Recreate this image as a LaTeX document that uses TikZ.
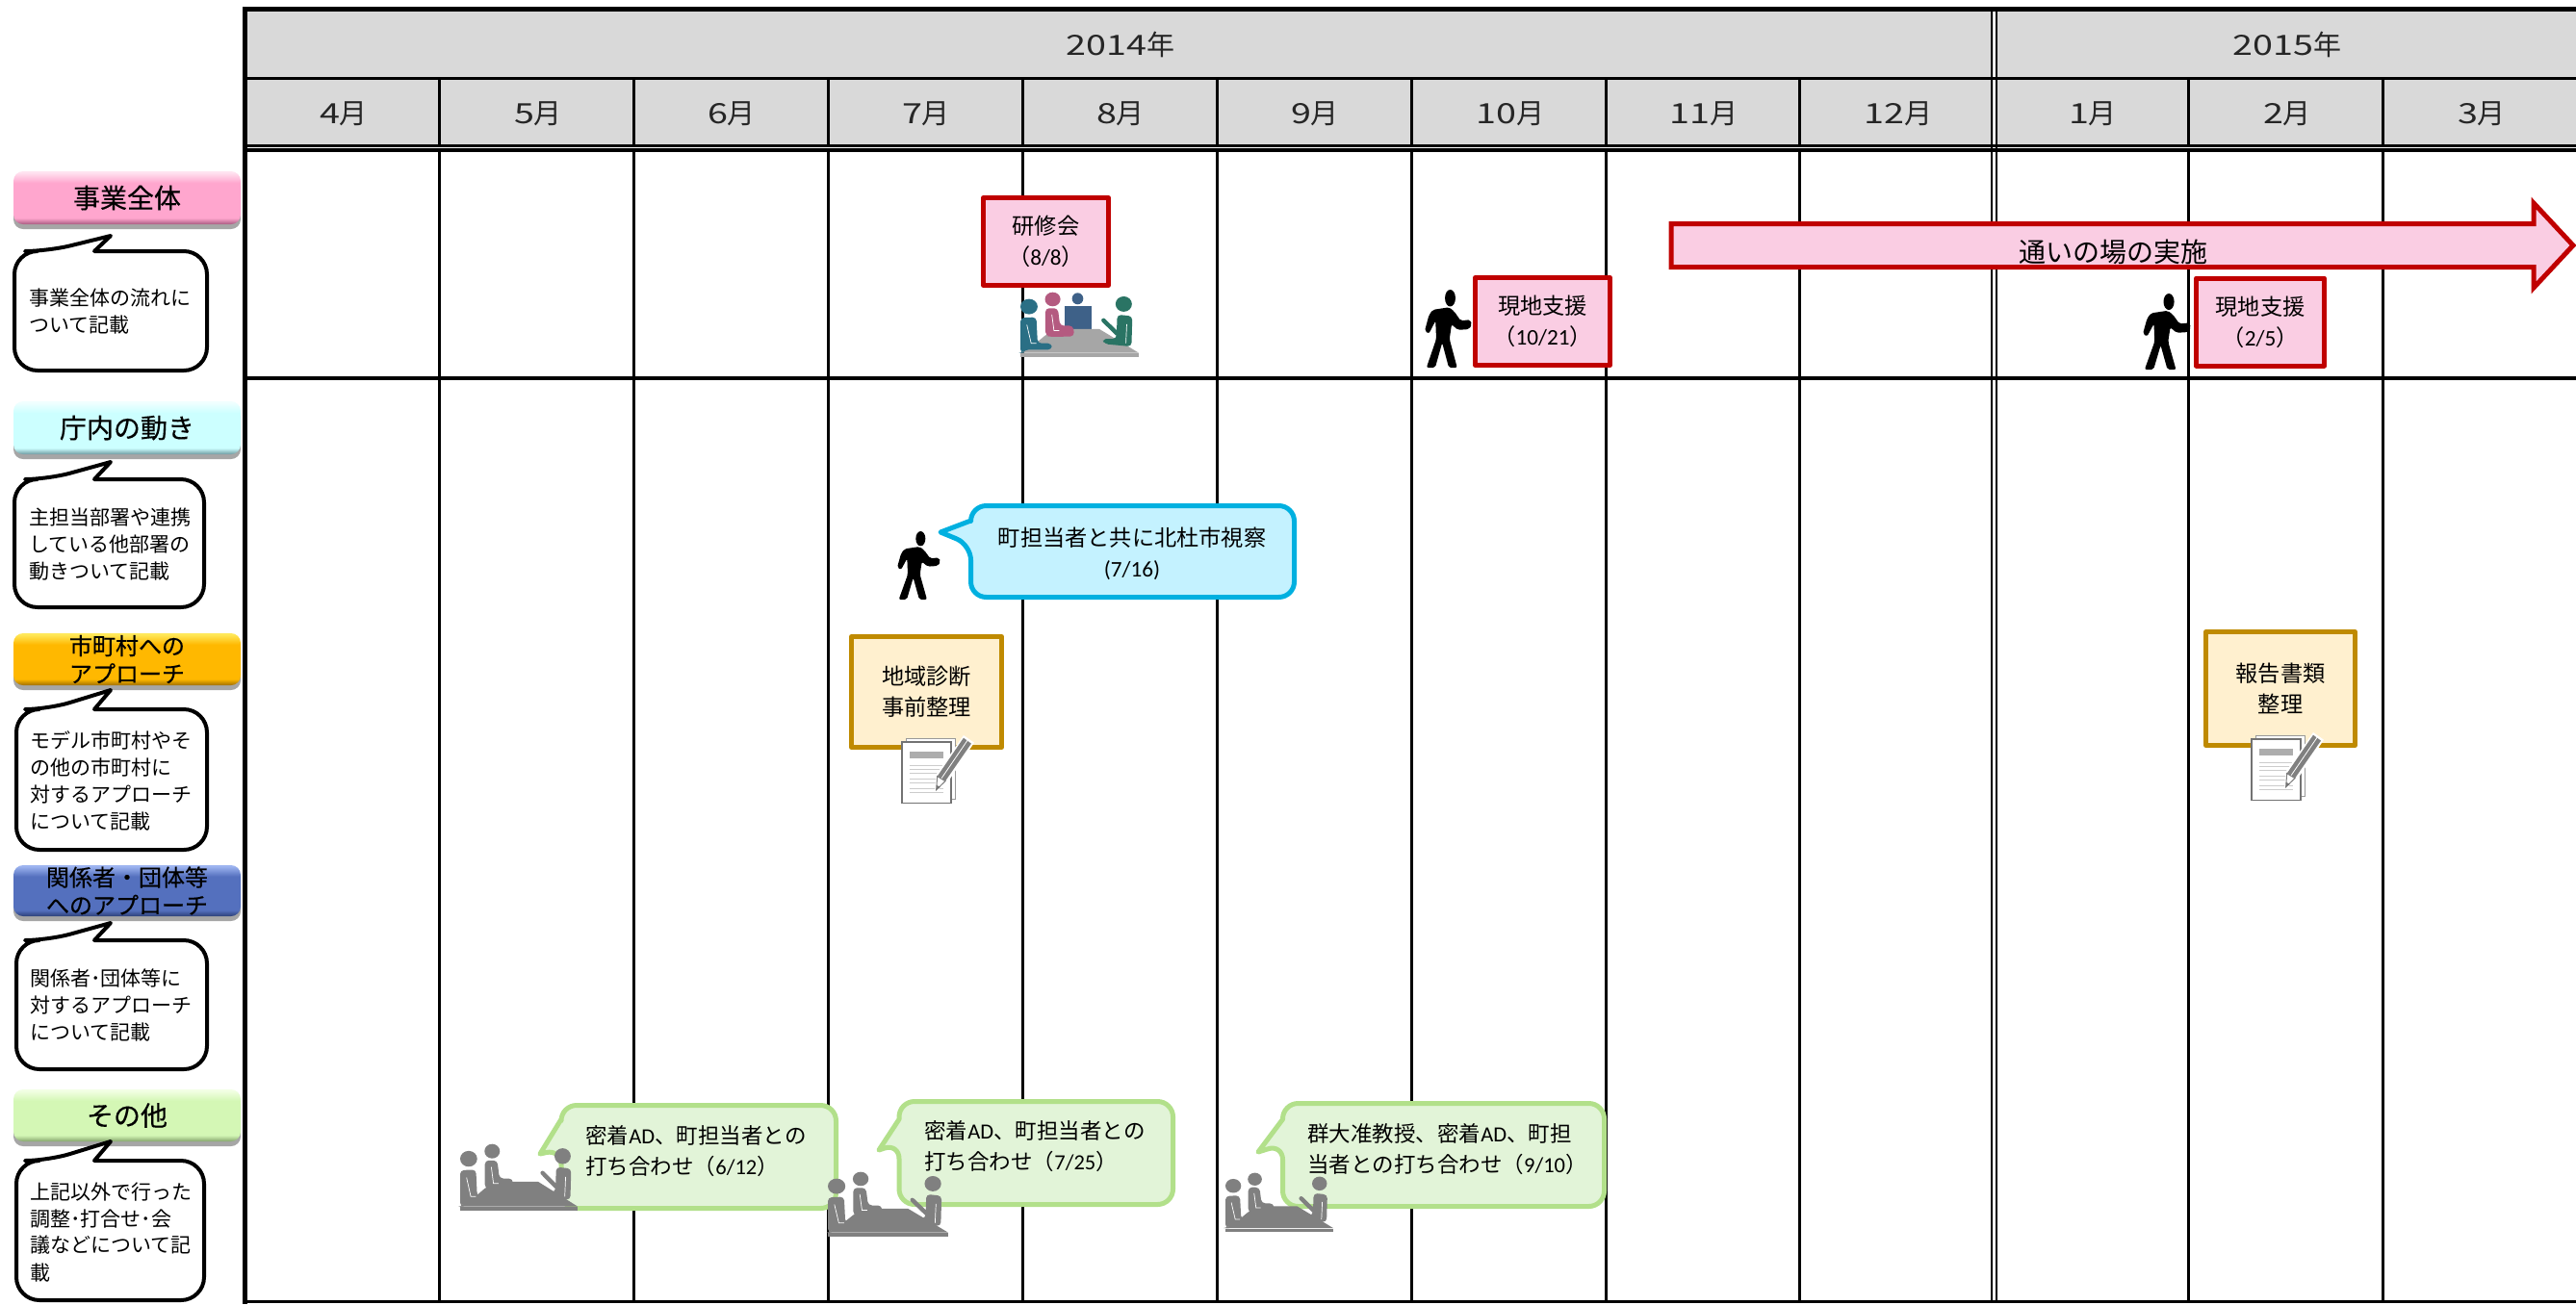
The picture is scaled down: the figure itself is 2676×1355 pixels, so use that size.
\documentclass[tikz,border=0pt]{standalone}
\usepackage{fontspec}
\usepackage{graphicx}
\usetikzlibrary{shadows}
\setmainfont{Noto Sans CJK JP}
\newfontfamily\lat{Carlito}
\newfontfamily\btnfont[FakeBold=0.35]{Noto Sans CJK JP}
\definecolor{hdr}{HTML}{D9D9D9}
\definecolor{redline}{HTML}{C00000}
\definecolor{redfill}{HTML}{FACDE3}
\definecolor{goldline}{HTML}{BF8A00}
\definecolor{goldfill}{HTML}{FFF0CF}
\definecolor{cyanline}{HTML}{00B0E0}
\definecolor{cyanfill}{HTML}{C4F2FF}
\definecolor{grnline}{HTML}{B2E08A}
\definecolor{grnfill}{HTML}{E2F4D8}
\definecolor{mA}{HTML}{2A6F85}
\definecolor{mB}{HTML}{B45A80}
\definecolor{mC}{HTML}{3E6188}
\definecolor{mD}{HTML}{2A7464}
\definecolor{mT}{HTML}{A6A6A6}
\definecolor{gP}{HTML}{808080}
\definecolor{pkL}{HTML}{FFE3F0}\definecolor{pkM}{HTML}{FFA6CE}\definecolor{pkD}{HTML}{A85A80}
\definecolor{cyL}{HTML}{F0FFFF}\definecolor{cyM}{HTML}{CCFFFF}\definecolor{cyD}{HTML}{6F9AA0}
\definecolor{orL}{HTML}{FFE85A}\definecolor{orM}{HTML}{FFB800}\definecolor{orD}{HTML}{A07000}
\definecolor{blL}{HTML}{9DB4F0}\definecolor{blM}{HTML}{5470BE}\definecolor{blD}{HTML}{2C3F78}
\definecolor{gnL}{HTML}{F2FFE4}\definecolor{gnM}{HTML}{D4F7B5}\definecolor{gnD}{HTML}{84A46C}
\newcommand\btnshade[4]{\pgfdeclareverticalshading{#1}{100bp}{color(0bp)=(#4);color(25bp)=(#4);color(31bp)=(#3);color(64bp)=(#3);color(74bp)=(#2);color(100bp)=(#2)}}
\btnshade{btnpink}{pkL}{pkM}{pkD}
\btnshade{btncyan}{cyL}{cyM}{cyD}
\btnshade{btnorange}{orL}{orM}{orD}
\btnshade{btnblue}{blL}{blM}{blD}
\btnshade{btngreen}{gnL}{gnM}{gnD}
\tikzset{
  gridline/.style={black,line width=1.5pt},
  boldline/.style={black,line width=2.5pt},
  hdrtext/.style={inner sep=0pt,text=black!85,font=\fontsize{14.5}{16}\selectfont},
  btn/.style={rounded corners=5pt,shade,minimum width=118pt,inner sep=0pt,align=center,
    drop shadow={shadow xshift=0pt,shadow yshift=-2.5pt,opacity=.35,fill=black}},
  btnbig/.style={font=\btnfont\fontsize{14}{16}\selectfont},
  btnsmall/.style={font=\btnfont\fontsize{12}{14.5}\selectfont},
  calloutline/.style={draw=black,fill=white,line width=2pt,line join=round},
  calltext/.style={inner sep=0pt,anchor=west,align=left,font=\fontsize{10.5}{14}\selectfont},
  evtext/.style={font=\fontsize{11.6}{16}\selectfont,align=center,inner sep=0pt},
  redbox/.style={evtext,draw=redline,fill=redfill,line width=2.5pt,line join=round},
  goldbox/.style={evtext,draw=goldline,fill=goldfill,line width=2.5pt,line join=round},
  evcall/.style={line width=2.5pt,line join=round},
  leftevtext/.style={evtext,anchor=west,align=left,font=\fontsize{11.25}{16}\selectfont}
}
\newcommand\yr[1]{\scalebox{1.3}[1]{#1}年}
\newcommand\mon[1]{\scalebox{1.3}[1]{#1}月}
% callout with pointer on top: x1,y1,x2,y2,tipy
\newcommand\topcall[5]{\path[calloutline,rounded corners=12pt] (#1,{(#2+#4)/2}) -- (#1,#2) -- (50,#2) [sharp corners] -- (115,#5) -- (98,#2) [rounded corners=12pt] -- (#3,#2) -- (#3,#4) -- (#1,#4) -- cycle;}
% callout with pointer on left: x1,y1,x2,y2,tipx,tipy,by1,by2,style
\newcommand\leftcall[9]{\path[evcall,#9,rounded corners=8pt] ({(#1+#3)/2},#2) -- (#3,#2) -- (#3,#4) -- (#1,#4) -- (#1,#8) [sharp corners] -- (#5,#6) -- (#1,#7) [rounded corners=8pt] -- (#1,#2) -- cycle;}
% walking figure X Y W H
\newcommand\walker[4]{\begin{scope}[shift={(#1,#2)},xscale={#3/135},yscale={#4/213},shift={(-155,-155)}]
 \fill[black] (228,178) circle[x radius=15,y radius=23];
 \fill[black,rounded corners=1pt] (178,210) -- (225,203) -- (240,215) -- (258,240) -- (285,237) -- (290,250) -- (282,263) -- (250,265) -- (232,250) -- (226,290) -- (248,368) -- (224,368) -- (205,300) -- (185,368) -- (160,368) -- (188,290) -- (186,240) -- (167,275) -- (155,268) -- (167,225) -- cycle;
\end{scope}}
% meeting group X Y W H colA colB colD table
\newcommand\meeting[8]{\begin{scope}[shift={(#1,#2)},xscale={#3/275},yscale={#4/205},shift={(-135,-368)}]
 \fill[#8] (225,485) -- (318,485) -- (410,560) -- (135,560) -- (175,525) -- (193,505) -- cycle;
 \fill[#8] (135,562) rectangle (410,573);
 \fill[#5] (155,415) circle[x radius=20,y radius=24];
 \fill[#5,rounded corners=2pt] (135,560) -- (135,450) -- (172,448) -- (175,530) -- (208,530) -- (208,550) -- (145,550) -- (140,560) -- cycle;
 \draw[white,line width=.35pt] (150,472) -- (160,530) -- (172,530);
 \fill[#6] (210,392) circle[x radius=18,y radius=22];
 \fill[#6,rounded corners=2pt] (193,505) -- (193,420) -- (222,420) -- (227,475) -- (258,475) -- (260,508) -- (205,510) -- cycle;
 \draw[white,line width=.35pt] (208,440) -- (213,490) -- (225,490);
 \fill[#7] (375,407) circle[x radius=19,y radius=24];
 \fill[#7,rounded corners=2pt] (393,540) -- (395,445) -- (360,440) -- (358,516) -- (325,516) -- (330,532) -- cycle;
 \draw[#7,line width=2.2pt,line cap=round] (328,458) -- (360,500);
 \draw[white,line width=.35pt] (382,470) -- (380,530);
\end{scope}}
% document icon: front page top-left corner
\newcommand\docicon[2]{\begin{scope}[shift={(#1,#2)},x=.1666pt,y=-.1666pt,shift={(-170,-813)}]
 \draw[black!40,fill=white,line width=.5pt] (183,802) rectangle (337,993);
 \draw[black!55,fill=white,line width=.6pt] (170,813) rectangle (323,1003);
 \fill[black!32] (193,843) rectangle (300,863);
 \foreach \yy in {887,898,912,928,942,958,972}{\draw[black!20,line width=.5pt] (193,\yy) -- (298,\yy);}
 \fill[white] (272,968) -- (276,915) -- (362,792) -- (395,815) -- (310,942) -- cycle;
 \fill[black!50] (280,920) -- (362,800) -- (386,818) -- (305,935) -- cycle;
 \draw[white,line width=.4pt] (292,928) -- (374,808);
 \draw[black!50,fill=white,line width=.5pt] (280,920) -- (305,935) -- (277,962) -- cycle;
 \fill[black!55] (277,962) -- (278,948) -- (290,953) -- cycle;
\end{scope}}
\begin{document}
\begin{tikzpicture}[x=.5pt,y=-.5pt]
\useasboundingbox (0,0) rectangle (2676,1355);
\fill[white] (0,0) rectangle (2676,1355);
% header band
\fill[hdr] (254,10) rectangle (2676,151);
\fill[white] (2070.5,10) rectangle (2072.5,1350);
% vertical grid
\foreach \xx in {456,658,860,1062,1264,1466,1668,1869,2273,2475}{
  \draw[gridline] (\xx,81) -- (\xx,151);
  \draw[gridline] (\xx,156) -- (\xx,1352);
}
\draw[black,line width=1.25pt] (2069,8) -- (2069,1352);
\draw[black,line width=1.25pt] (2074,8) -- (2074,1352);
% horizontals
\draw[gridline] (254,81) -- (2676,81);
\draw[gridline] (254,151) -- (2676,151);
\draw[black,line width=2pt] (254,155.5) -- (2676,155.5);
\draw[black,line width=1.75pt] (254,393) -- (2676,393);
\draw[black,line width=1.75pt] (254,1352.5) -- (2676,1352.5);
\draw[boldline] (254.5,9.5) -- (2676,9.5);
\draw[boldline] (254.5,7) -- (254.5,1355);
% header texts
\node[hdrtext] (y14) at (1164,46) {\yr{2014}};
\node[hdrtext] (y15) at (2376,46) {\yr{2015}};
\node[hdrtext] (m4) at (357,118) {\mon{4}};
\node[hdrtext] (m5) at (559,118) {\mon{5}};
\node[hdrtext] (m6) at (760,118) {\mon{6}};
\node[hdrtext] (m7) at (962,118) {\mon{7}};
\node[hdrtext] (m8) at (1164,118) {\mon{8}};
\node[hdrtext] (m9) at (1366,118) {\mon{9}};
\node[hdrtext] (m10) at (1569,118) {\mon{10}};
\node[hdrtext] (m11) at (1770,118) {\mon{11}};
\node[hdrtext] (m12) at (1972,118) {\mon{12}};
\node[hdrtext] (m1) at (2174,118) {\mon{1}};
\node[hdrtext] (m2) at (2376,118) {\mon{2}};
\node[hdrtext] (m3) at (2578,118) {\mon{3}};
% legend buttons
\node[btn,btnbig,shading=btnpink,minimum height=27.5pt] (b1) at (132,205.5) {事業全体};
\node[btn,btnbig,shading=btncyan,minimum height=27.5pt] (b2) at (132,444.5) {庁内の動き};
\node[btn,btnsmall,shading=btnorange,minimum height=27pt] (b3) at (132,685) {市町村への\\アプローチ};
\node[btn,btnsmall,shading=btnblue,minimum height=26.5pt] (b4) at (132,925.5) {関係者・団体等\\へのアプローチ};
\node[btn,btnbig,shading=btngreen,minimum height=27pt] (b5) at (132,1159) {その他};
% legend callouts
\topcall{15}{261}{215}{385}{245}
\topcall{15}{498}{212}{631}{480}
\topcall{17}{737}{215}{883}{717}
\topcall{17}{977}{215}{1111}{959}
\topcall{17}{1206}{212}{1351}{1186}
\node[calltext] (c1) at (30,324) {事業全体の流れに\\ついて記載};
\node[calltext] (c2) at (30,566) {主担当部署や連携\\している他部署の\\動きついて記載};
\node[calltext] (c3) at (31,811) {モデル市町村やそ\\の他の市町村に\\対するアプローチ\\について記載};
\node[calltext] (c4) at (31,1044) {関係者･団体等に\\対するアプローチ\\について記載};
\node[calltext] (c5) at (31,1280) {上記以外で行った\\調整･打合せ･会\\議などについて記\\載};
% arrow
\path[draw=redline,fill=redfill,line width=2.5pt,line join=miter] (1736,232.5) -- (2632,232.5) -- (2632,211) -- (2673,255) -- (2632,299) -- (2632,277.5) -- (1736,277.5) -- cycle;
\node[evtext,font=\fontsize{14}{16}\selectfont] (arrowtext) at (2195,262) {通いの場の実施};
% red boxes
\node[redbox,minimum width=65pt,minimum height=45.5pt] (r1) at (1086.5,251) {研修会\\（{\lat 8/8}）};
\node[redbox,minimum width=70pt,minimum height=45.5pt] (r2) at (1602.5,334) {現地支援\\（{\lat 10/21}）};
\node[redbox,minimum width=66.5pt,minimum height=45.5pt] (r3) at (2348,334.5) {現地支援\\（{\lat 2/5}）};
% figures
\begin{scope}[shift={(1060,303)},xscale={123/275},yscale={68/205},shift={(-135,-368)}]
 \fill[mC] (268,390) circle[x radius=13,y radius=18];
 \fill[mC] (237,412) -- (300,412) -- (300,490) -- (237,490) -- cycle;
\end{scope}
\meeting{1060}{303}{123}{68}{mA}{mB}{mD}{mT}
\walker{1480}{301}{49}{81}
\walker{2226}{305}{50}{79}
% bubble
\leftcall{1008.5}{525.5}{1344.5}{620.5}{977}{553}{541}{566}{draw=cyanline,fill=cyanfill}
\node[evtext] (cy) at (1176,575.5) {町担当者と共に北杜市視察\\{\lat (7/16)}};
\walker{932}{552}{45}{71}
% gold boxes
\node[goldbox,minimum width=78pt,minimum height=57.5pt] (g1) at (962.5,719) {地域診断\\事前整理};
\node[goldbox,minimum width=77.5pt,minimum height=59pt] (g2) at (2369,715.5) {報告書類\\整理};
\docicon{937}{771}
\docicon{2339}{768}
% green bubbles
\leftcall{583}{1148.5}{868.5}{1255.5}{561}{1199}{1163}{1194}{draw=grnline,fill=grnfill}
\leftcall{934}{1144.5}{1218.5}{1251.5}{913}{1195}{1163}{1188}{draw=grnline,fill=grnfill}
\leftcall{1332.5}{1146.5}{1666.5}{1253.5}{1307}{1197}{1163}{1189}{draw=grnline,fill=grnfill}
\node[leftevtext] (t1) at (608,1196) {密着{\lat AD}、町担当者との\\打ち合わせ（{\lat 6/12}）};
\node[leftevtext] (t2) at (960,1191) {密着{\lat AD}、町担当者との\\打ち合わせ（{\lat 7/25}）};
\node[leftevtext] (t3) at (1358,1194.5) {群大准教授、密着{\lat AD}、町担\\当者との打ち合わせ（{\lat 9/10}）};
\meeting{478}{1188}{122}{70}{gP}{gP}{gP}{gP}
\meeting{860}{1217}{125}{68}{gP}{gP}{gP}{gP}
\meeting{1273}{1218}{112}{62}{gP}{gP}{gP}{gP}
\end{tikzpicture}
\end{document}
